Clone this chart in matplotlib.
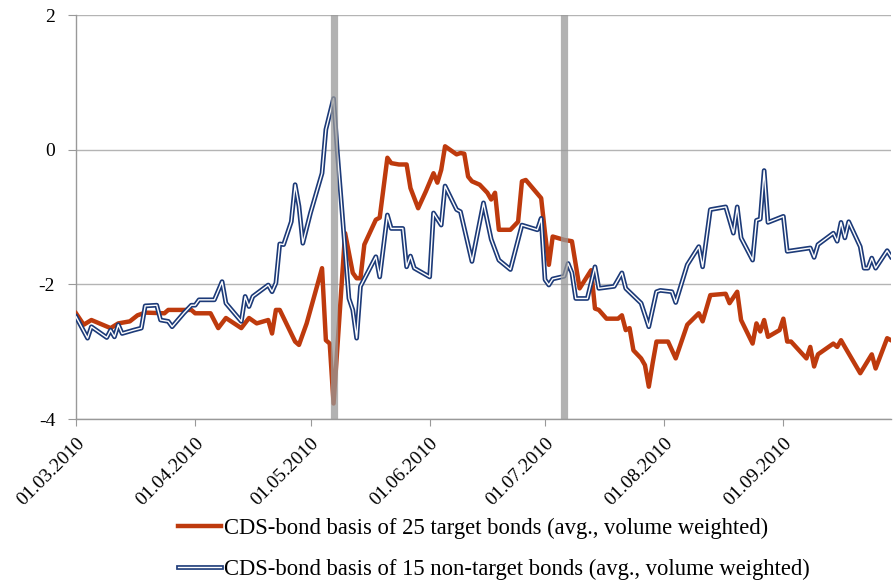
import matplotlib
matplotlib.use("Agg")
import matplotlib.pyplot as plt
import matplotlib.dates as mdates
import matplotlib.patheffects as pe
import pandas as pd

# CDS-bond basis (date, value)
target_dates = [
    "03-01", "03-03", "03-05", "03-10", "03-12", "03-15", "03-17", "03-19", "03-24", "03-25",
    "03-31", "04-01", "04-05", "04-07", "04-09", "04-13", "04-15", "04-17", "04-20", "04-21",
    "04-22", "04-23", "04-27", "04-28", "04-30", "05-04", "05-05", "05-06", "05-07", "05-10",
    "05-12", "05-13", "05-14", "05-15", "05-18", "05-19", "05-21", "05-22", "05-24", "05-26",
    "05-27", "05-29", "05-31", "06-02", "06-03", "06-04", "06-05", "06-08", "06-09", "06-10",
    "06-11", "06-12", "06-14", "06-16", "06-17", "06-18", "06-19", "06-22", "06-24", "06-25",
    "06-26", "06-30", "07-01", "07-02", "07-03", "07-06", "07-08", "07-10", "07-13", "07-14",
    "07-15", "07-17", "07-20", "07-21", "07-22", "07-23", "07-24", "07-26", "07-27", "07-28",
    "07-29", "07-30", "08-02", "08-04", "08-07", "08-10", "08-11", "08-13", "08-17", "08-18",
    "08-20", "08-21", "08-24", "08-25", "08-26", "08-27", "08-28", "08-31", "09-01", "09-02",
    "09-03", "09-07", "09-08", "09-09", "09-10", "09-14", "09-15", "09-16", "09-17", "09-21",
    "09-24", "09-25", "09-28", "09-29",
]
target_basis = [
    -2.43, -2.60, -2.53, -2.65, -2.58, -2.55, -2.46, -2.42, -2.43, -2.38,
    -2.38, -2.43, -2.43, -2.65, -2.50, -2.65, -2.50, -2.58, -2.53, -2.73,
    -2.38, -2.38, -2.85, -2.90, -2.58, -1.76, -2.83, -2.88, -3.77, -1.24,
    -1.83, -1.91, -1.91, -1.41, -1.04, -1.01, -0.12, -0.20, -0.22, -0.22,
    -0.57, -0.87, -0.62, -0.35, -0.49, -0.30, 0.05, -0.07, -0.05, -0.06,
    -0.40, -0.47, -0.52, -0.64, -0.74, -0.64, -1.19, -1.19, -1.07, -0.47,
    -0.45, -0.72, -1.24, -1.71, -1.29, -1.34, -1.36, -2.06, -1.79, -2.36,
    -2.38, -2.51, -2.51, -2.46, -2.68, -2.65, -2.98, -3.10, -3.20, -3.52,
    -3.17, -2.85, -2.85, -3.10, -2.60, -2.43, -2.55, -2.16, -2.14, -2.28,
    -2.11, -2.53, -2.88, -2.58, -2.70, -2.53, -2.78, -2.68, -2.51, -2.85,
    -2.85, -3.10, -2.93, -3.22, -3.04, -2.88, -2.93, -2.83, -2.93, -3.32,
    -3.04, -3.25, -2.80, -2.83,
]

nontarget_dates = [
    "03-01", "03-04", "03-05", "03-09", "03-10", "03-11", "03-12", "03-13", "03-16", "03-18",
    "03-19", "03-22", "03-23", "03-25", "03-26", "03-29", "03-31", "04-01", "04-02", "04-06",
    "04-08", "04-09", "04-13", "04-14", "04-15", "04-16", "04-20", "04-21", "04-22", "04-23",
    "04-24", "04-26", "04-27", "04-28", "04-29", "05-01", "05-04", "05-05", "05-07", "05-08",
    "05-11", "05-12", "05-13", "05-14", "05-18", "05-19", "05-21", "05-22", "05-25", "05-26",
    "05-27", "05-28", "06-01", "06-02", "06-04", "06-05", "06-08", "06-09", "06-12", "06-15",
    "06-17", "06-19", "06-22", "06-25", "06-29", "06-30", "07-01", "07-02", "07-03", "07-06",
    "07-07", "07-08", "07-09", "07-12", "07-14", "07-15", "07-19", "07-21", "07-22", "07-26",
    "07-28", "07-30", "07-31", "08-03", "08-04", "08-07", "08-10", "08-11", "08-13", "08-17",
    "08-19", "08-20", "08-21", "08-24", "08-25", "08-26", "08-27", "08-28", "09-01", "09-02",
    "09-08", "09-09", "09-10", "09-14", "09-15", "09-16", "09-17", "09-18", "09-21", "09-22",
    "09-23", "09-24", "09-25", "09-28", "09-29",
]
nontarget_basis = [
    -2.48, -2.80, -2.63, -2.79, -2.68, -2.78, -2.60, -2.73, -2.68, -2.65,
    -2.32, -2.31, -2.53, -2.55, -2.63, -2.43, -2.31, -2.31, -2.23, -2.23,
    -1.96, -2.28, -2.55, -2.18, -2.33, -2.18, -2.01, -2.11, -1.98, -1.40,
    -1.41, -1.07, -0.52, -0.84, -1.39, -0.94, -0.35, 0.30, 0.76, -0.05,
    -2.21, -2.38, -2.80, -2.03, -1.59, -1.89, -0.97, -1.17, -1.17, -1.74,
    -1.58, -1.76, -1.89, -0.94, -1.12, -0.54, -0.89, -0.92, -1.66, -0.79,
    -1.33, -1.64, -1.78, -1.12, -1.19, -1.02, -1.93, -2.01, -1.92, -1.88,
    -1.69, -1.83, -2.21, -2.21, -1.74, -2.06, -2.03, -1.83, -2.06, -2.28,
    -2.63, -2.11, -2.09, -2.11, -2.27, -1.71, -1.44, -1.74, -0.89, -0.85,
    -1.24, -0.85, -1.31, -1.64, -1.05, -1.03, -0.31, -1.08, -0.99, -1.51,
    -1.46, -1.60, -1.41, -1.24, -1.36, -1.08, -1.31, -1.07, -1.44, -1.76,
    -1.76, -1.61, -1.76, -1.50, -1.59,
]

event_dates = ["05-07", "07-06"]
tick_dates = ["03-01", "04-01", "05-01", "06-01", "07-01", "08-01", "09-01"]
y_ticks = [-4, -2, 0, 2]

label_target = "CDS-bond basis of 25 target bonds (avg., volume weighted)"
label_nontarget = "CDS-bond basis of 15 non-target bonds (avg., volume weighted)"


def to_dates(md):
    return pd.to_datetime(["2010-" + d for d in md])


plt.rcParams["font.family"] = ["Liberation Serif", "DejaVu Serif"]
plt.rcParams["axes.unicode_minus"] = False

fig = plt.figure(figsize=(8.93, 5.83), dpi=100)
ax = fig.add_axes([76 / 893, 1 - 419 / 583, (891 - 76) / 893, (419 - 15) / 583])

red = "#BE3A0D"
navy = "#1C3A78"
grid_c = "#B4B4B4"

ax.plot(to_dates(target_dates), target_basis, color=red, lw=3.2,
        solid_joinstyle="round", label=label_target, zorder=3)
ax.plot(to_dates(nontarget_dates), nontarget_basis, color="white", lw=1.0,
        solid_joinstyle="round", label=label_nontarget, zorder=4,
        path_effects=[pe.Stroke(linewidth=3.4, foreground=navy), pe.Normal()])

ev = to_dates(event_dates)
ax.axvline(ev[0], ymin=0.0, ymax=1.0, color="#999999", alpha=0.75, lw=5.2, zorder=5)
ax.axvline(ev[1], ymin=0.01, ymax=1.0, color="#999999", alpha=0.75, lw=5.2, zorder=5)

ax.set_ylim(-4, 2)
ax.set_yticks(y_ticks)
ax.set_xlim(pd.Timestamp("2010-03-01"), pd.Timestamp("2010-09-29"))
ticks = to_dates(tick_dates)
ax.set_xticks(ticks)
ax.xaxis.set_major_formatter(mdates.DateFormatter("%d.%m.%Y"))

ax.grid(axis="y", color=grid_c, lw=1.0, zorder=0)
ax.set_axisbelow(True)
for s in ["top", "right"]:
    ax.spines[s].set_visible(False)
for s in ["left", "bottom"]:
    ax.spines[s].set_color("#999999")
    ax.spines[s].set_linewidth(1.0)

ax.tick_params(axis="y", length=6, color="#999999", labelsize=14, pad=9)
ax.tick_params(axis="x", length=5, color="#999999", labelsize=14, pad=6)
for lab in ax.get_xticklabels():
    lab.set_rotation(45)
    lab.set_ha("right")
    lab.set_va("top")
    lab.set_rotation_mode("anchor")

fig.legend(loc="center", bbox_to_anchor=(494 / 893, 1 - 549 / 583), frameon=False,
           fontsize=16.3, handlelength=1.9, handletextpad=0.1, labelspacing=0.85,
           borderpad=0)

fig.savefig("out.png", dpi=100)
